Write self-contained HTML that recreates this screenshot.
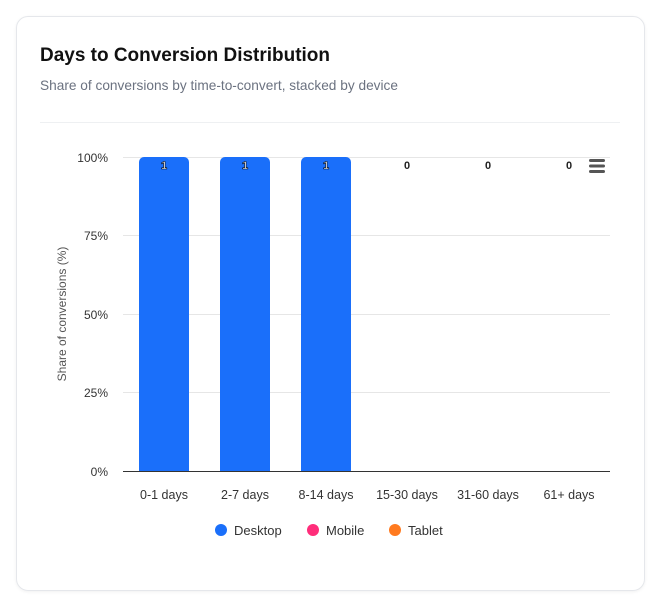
<!DOCTYPE html>
<html><head><style>
body{margin:0;background:#fff;width:651px;height:602px;overflow:hidden;font-family:"Liberation Sans",sans-serif}
.card{position:absolute;left:16px;top:16px;width:627px;height:573px;border:1px solid #e5e7eb;border-radius:12px;box-shadow:0 1px 3px rgba(0,0,0,0.06)}
</style></head><body>
<div class="card"></div>
<svg width="651" height="602" style="position:absolute;left:0;top:0" font-family="Liberation Sans, sans-serif">
<text x="40" y="61" font-size="19.5" font-weight="bold" fill="#111" textLength="290" lengthAdjust="spacingAndGlyphs">Days to Conversion Distribution</text>
<text x="40" y="90" font-size="14" fill="#6b7280" textLength="358" lengthAdjust="spacingAndGlyphs">Share of conversions by time-to-convert, stacked by device</text>
<line x1="40" y1="122.5" x2="620" y2="122.5" stroke="#eef0f2"/>
<g stroke="#e6e6e6">
<line x1="123" y1="157.5" x2="610" y2="157.5"/>
<line x1="123" y1="235.5" x2="610" y2="235.5"/>
<line x1="123" y1="314.5" x2="610" y2="314.5"/>
<line x1="123" y1="392.5" x2="610" y2="392.5"/>
</g>
<g font-size="12" fill="#333" text-anchor="end">
<text x="108" y="162">100%</text><text x="108" y="240">75%</text><text x="108" y="319">50%</text><text x="108" y="397">25%</text><text x="108" y="476">0%</text>
</g>
<text transform="translate(66,314) rotate(-90)" font-size="12" fill="#555" text-anchor="middle">Share of conversions (%)</text>
<g fill="#1a6ffa">
<path d="M139 471V162a5 5 0 0 1 5-5h40a5 5 0 0 1 5 5V471z"/>
<path d="M220 471V162a5 5 0 0 1 5-5h40a5 5 0 0 1 5 5V471z"/>
<path d="M301 471V162a5 5 0 0 1 5-5h40a5 5 0 0 1 5 5V471z"/>
</g>
<line x1="123" y1="471.5" x2="610" y2="471.5" stroke="#333"/>
<g font-size="11" font-weight="bold" text-anchor="middle">
<g fill="#fff" stroke="#000" stroke-width="0.6"><text x="164" y="169">1</text><text x="245" y="169">1</text><text x="326" y="169">1</text></g>
<g fill="#222"><text x="407" y="169">0</text><text x="488" y="169">0</text><text x="569" y="169">0</text></g>
</g>
<g fill="#555"><rect x="589" y="159" width="16" height="3" rx="1.5"/><rect x="589" y="164.5" width="16" height="3" rx="1.5"/><rect x="589" y="170" width="16" height="3" rx="1.5"/></g>
<g font-size="12.5" fill="#333" text-anchor="middle">
<text x="164" y="499">0-1 days</text><text x="245" y="499">2-7 days</text><text x="326" y="499">8-14 days</text><text x="407" y="499">15-30 days</text><text x="488" y="499">31-60 days</text><text x="569" y="499">61+ days</text>
</g>
<circle cx="221" cy="530" r="6" fill="#1a6ffa"/><text x="234" y="535" font-size="13" fill="#333">Desktop</text>
<circle cx="313" cy="530" r="6" fill="#ff2d7a"/><text x="326" y="535" font-size="13" fill="#333">Mobile</text>
<circle cx="395" cy="530" r="6" fill="#ff7a1f"/><text x="408" y="535" font-size="13" fill="#333">Tablet</text>
</svg>
</body></html>
